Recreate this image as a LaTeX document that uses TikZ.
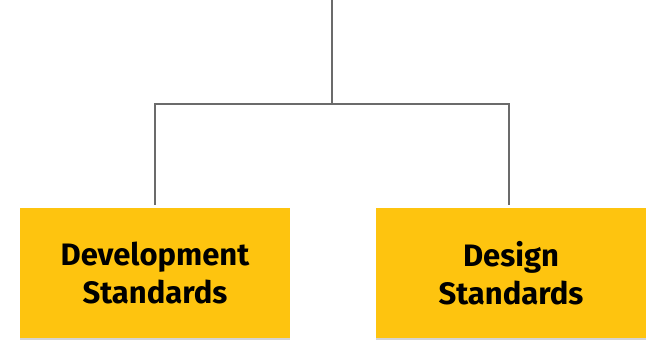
\documentclass[tikz,border=0pt]{standalone}
\usepackage{fontspec}
\setmainfont{Fira Sans}
\usepackage{tikz}
\usetikzlibrary{positioning, shadows}
\definecolor{stdyellow}{HTML}{FEC40F}
\definecolor{lineGray}{HTML}{6B6B6B}

\begin{document}
\begin{tikzpicture}[
		x=1pt, y=-1pt,                      % Pixel-Koordinaten
		every node/.style={font=\bfseries\fontsize{31}{38}\selectfont},
		box/.style={
			fill=stdyellow,
			minimum width=270pt,
			minimum height=130pt,
			align=center,
			drop shadow={shadow xshift=0pt, shadow yshift=-2pt, opacity=0.35}},
		link/.style={draw=lineGray, line width=1.6pt}
		]
		
		% Rahmen
		\useasboundingbox (0,0) rectangle (648,341);
		
		% Verzweigung oben
		\coordinate (top) at (332,0);
		\coordinate (split) at (332,104);
		
		% Linker Kasten
		\node[box] (dev) at (155,273) {Development\\Standards};
		
		% Rechter Kasten
		\node[box] (des) at (511,273) {Design\\Standards};
		
		% Verbindungen
		\draw[link] (top) -- (split);
		\draw[link, shorten >=3pt] (split) -| (dev.north);
		\draw[link, shorten >=3pt] (split) -| ([xshift=-2pt]des.north);
		
	\end{tikzpicture}
\end{document}
